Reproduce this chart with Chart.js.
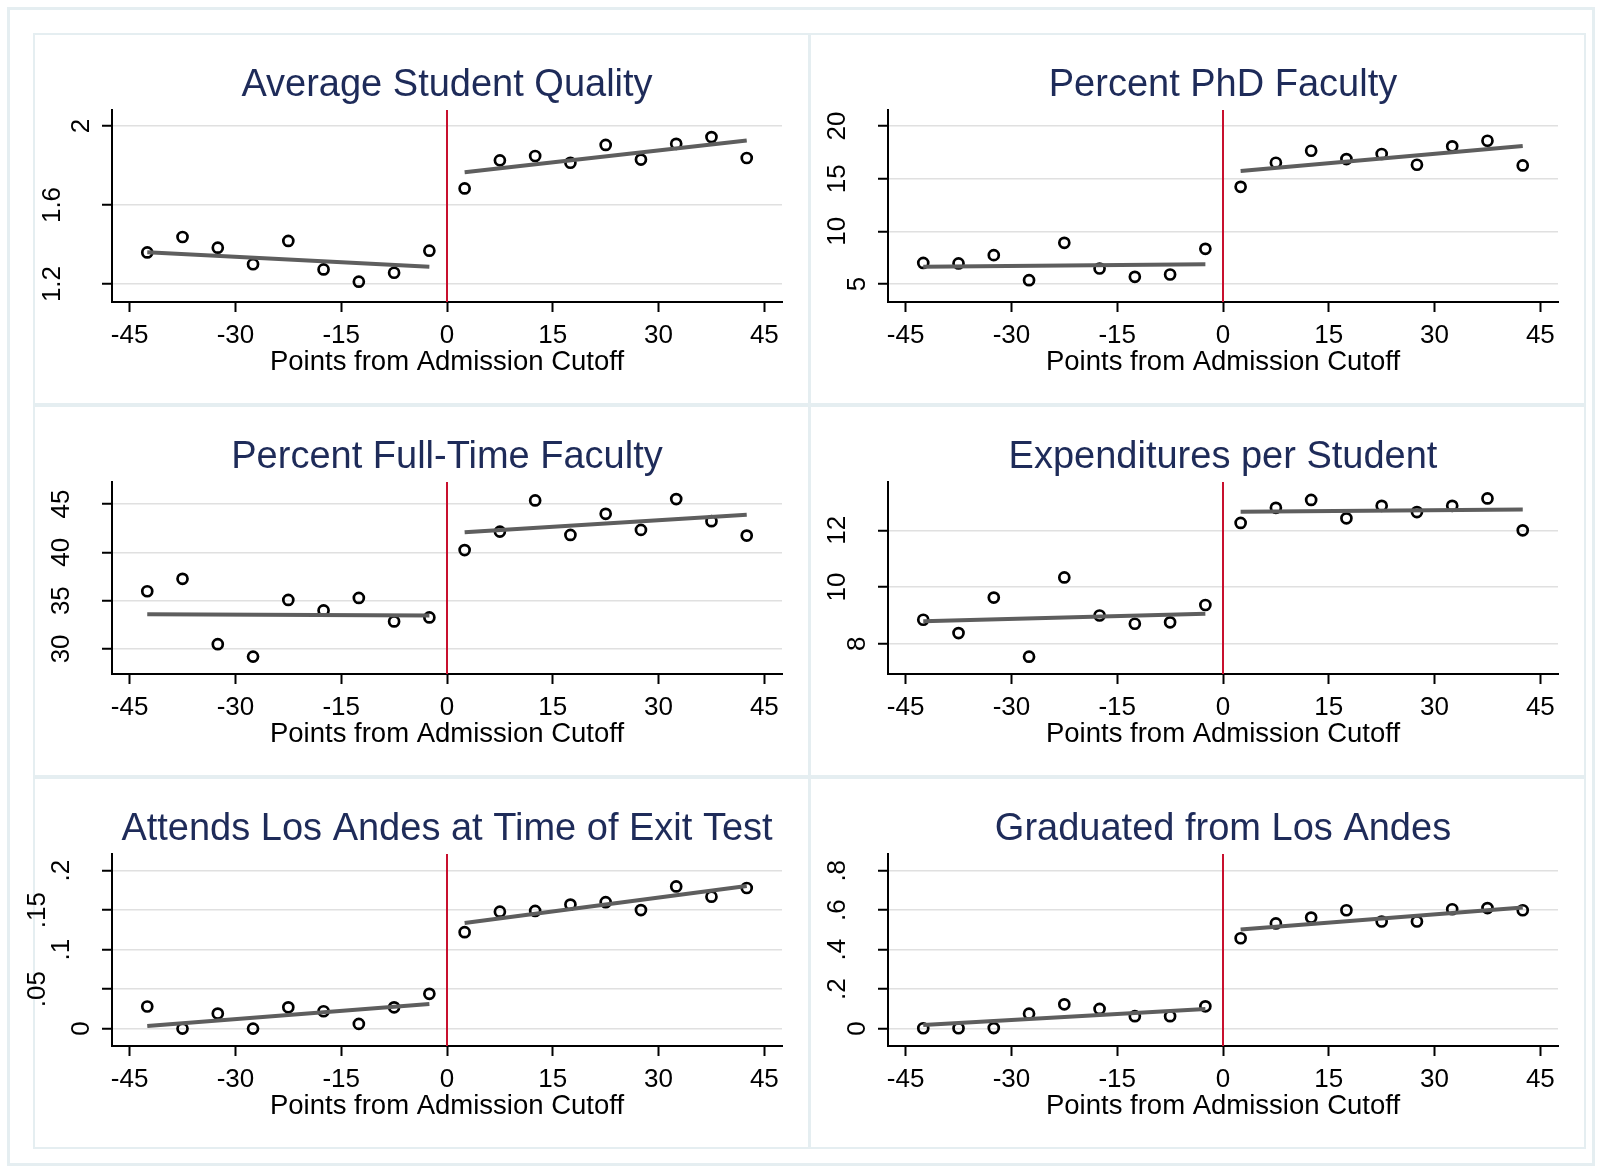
<!DOCTYPE html>
<html>
<head>
<meta charset="utf-8">
<script src="https://cdn.jsdelivr.net/npm/chart.js@4.4.1/dist/chart.umd.min.js"></script>
<style>
  html, body { margin: 0; padding: 0; background: #fff; }
  #figure { position: relative; width: 1601px; height: 1169px; }
  .frame { position: absolute; box-sizing: border-box; border: 2px solid #e5eef1; }
  canvas { position: absolute; }
</style>
</head>
<body>
<div id="figure"></div>
<script>
const bins = [-42.5, -37.5, -32.5, -27.5, -22.5, -17.5, -12.5, -7.5, -2.5, 2.5, 7.5, 12.5, 17.5, 22.5, 27.5, 32.5, 37.5, 42.5];
const fitX = [-42.5, -2.5, 2.5, 42.5];
const cutoff = 0;
const xRange = [-47.5, 47.5];
const xTicks = [-45, -30, -15, 0, 15, 30, 45];
const xTitle = 'Points from Admission Cutoff';

// Average Student Quality
const qualityValues = [1.360, 1.438, 1.384, 1.300, 1.418, 1.274, 1.212, 1.257, 1.369, 1.684, 1.826, 1.848, 1.814, 1.904, 1.830, 1.910, 1.944, 1.838];
const qualityFit = [1.361, 1.288, 1.766, 1.927];
const qualityTicks = [1.2, 1.6, 2];
const qualityLabels = ['1.2', '1.6', '2'];
const qualityRange = [1.109, 2.081];

// Percent PhD Faculty
const phdValues = [7.00, 6.95, 7.74, 5.36, 8.91, 6.47, 5.68, 5.90, 8.34, 14.23, 16.51, 17.65, 16.86, 17.34, 16.32, 18.07, 18.60, 16.26];
const phdFit = [6.63, 6.88, 15.72, 18.10];
const phdTicks = [5, 10, 15, 20];
const phdLabels = ['5', '10', '15', '20'];
const phdRange = [3.29, 21.52];

// Percent Full-Time Faculty
const fullTimeValues = [35.97, 37.26, 30.49, 29.20, 35.07, 33.99, 35.28, 32.85, 33.26, 40.24, 42.15, 45.38, 41.81, 43.99, 42.33, 45.52, 43.23, 41.74];
const fullTimeFit = [33.58, 33.47, 42.08, 43.89];
const fullTimeTicks = [30, 35, 40, 45];
const fullTimeLabels = ['30', '35', '40', '45'];
const fullTimeRange = [27.40, 47.29];

// Expenditures per Student
const spendValues = [8.85, 8.38, 9.63, 7.55, 10.34, 9.00, 8.71, 8.76, 9.37, 12.26, 12.79, 13.07, 12.42, 12.86, 12.64, 12.86, 13.12, 12.00];
const spendFit = [8.80, 9.06, 12.65, 12.73];
const spendTicks = [8, 10, 12];
const spendLabels = ['8', '10', '12'];
const spendRange = [6.94, 13.70];

// Attends Los Andes at Time of Exit Test
const attendValues = [0.028, 0.000, 0.019, 0.000, 0.027, 0.022, 0.006, 0.027, 0.044, 0.122, 0.148, 0.149, 0.157, 0.160, 0.150, 0.180, 0.167, 0.178];
const attendFit = [0.0034, 0.0313, 0.1336, 0.1805];
const attendTicks = [0, 0.05, 0.1, 0.15, 0.2];
const attendLabels = ['0', '.05', '.1', '.15', '.2'];
const attendRange = [-0.022, 0.221];

// Graduated from Los Andes
const gradValues = [0.002, 0.002, 0.003, 0.076, 0.123, 0.100, 0.063, 0.063, 0.113, 0.458, 0.533, 0.563, 0.600, 0.543, 0.543, 0.605, 0.611, 0.600];
const gradFit = [0.019, 0.100, 0.502, 0.614];
const gradTicks = [0, 0.2, 0.4, 0.6, 0.8];
const gradLabels = ['0', '.2', '.4', '.6', '.8'];
const gradRange = [-0.088, 0.885];

const panels = [
  { title: 'Average Student Quality', values: qualityValues, fit: qualityFit, ticks: qualityTicks, labels: qualityLabels, range: qualityRange, col: 0, row: 0 },
  { title: 'Percent PhD Faculty', values: phdValues, fit: phdFit, ticks: phdTicks, labels: phdLabels, range: phdRange, col: 1, row: 0 },
  { title: 'Percent Full-Time Faculty', values: fullTimeValues, fit: fullTimeFit, ticks: fullTimeTicks, labels: fullTimeLabels, range: fullTimeRange, col: 0, row: 1 },
  { title: 'Expenditures per Student', values: spendValues, fit: spendFit, ticks: spendTicks, labels: spendLabels, range: spendRange, col: 1, row: 1 },
  { title: 'Attends Los Andes at Time of Exit Test', values: attendValues, fit: attendFit, ticks: attendTicks, labels: attendLabels, range: attendRange, col: 0, row: 2 },
  { title: 'Graduated from Los Andes', values: gradValues, fit: gradFit, ticks: gradTicks, labels: gradLabels, range: gradRange, col: 1, row: 2 }
];

const colLeft = [33, 809];
const rowTop = [33, 405, 777];
const W = 777, H = 372;
const BLEED = 16;         // canvas reaches a little left of the panel frame, like Stata's labels
const AXIS_LEFT = 79;     // y axis distance from the panel frame
const FONT = "'Liberation Sans', Arial, sans-serif";
const Y_TICK_SIZE = 26;
const TICK_LEN = 10;
const BASE_OFFSET = 50;   // distance from y axis to the centre of the rotated labels

Chart.defaults.font.family = FONT;
Chart.defaults.color = '#000';

const fig = document.getElementById('figure');
const measureCtx = document.createElement('canvas').getContext('2d');
measureCtx.font = Y_TICK_SIZE + 'px ' + FONT;

// Stata puts short rotated labels closer to the axis than long ones
function labelOffset(label) {
  if (label.length === 1) return 30;
  if (label.length === 2) return 50;
  return label[0] === '.' ? 74 : 59;
}

function addFrame(left, top, width, height, border) {
  const d = document.createElement('div');
  d.className = 'frame';
  d.style.left = left + 'px';
  d.style.top = top + 'px';
  d.style.width = width + 'px';
  d.style.height = height + 'px';
  d.style.borderWidth = border + 'px';
  fig.appendChild(d);
}

addFrame(7, 7, 1588, 1159, 3);
panels.forEach(p => addFrame(colLeft[p.col], rowTop[p.row], W, H, 2));

function makeChart(p) {
  const canvas = document.createElement('canvas');
  canvas.width = W + BLEED;
  canvas.height = H;
  canvas.style.left = (colLeft[p.col] - BLEED) + 'px';
  canvas.style.top = rowTop[p.row] + 'px';
  fig.appendChild(canvas);

  const points = bins.map((x, i) => ({ x: x, y: p.values[i] }));
  const fitStyle = { showLine: true, borderColor: '#5e5e5e', borderWidth: 4, pointRadius: 0 };

  // rotated labels are centred BASE_OFFSET px left of the axis, then nudged with an empty
  // second line whose line height sets the shift
  const widest = Math.max(...p.labels.map(l => measureCtx.measureText(l).width));
  const labelPad = BASE_OFFSET - TICK_LEN - widest / 2;
  const shifts = p.labels.map(l => BASE_OFFSET - labelOffset(l));

  new Chart(canvas, {
    type: 'scatter',
    data: {
      datasets: [
        { ...fitStyle, data: [{ x: fitX[0], y: p.fit[0] }, { x: fitX[1], y: p.fit[1] }] },
        { ...fitStyle, data: [{ x: fitX[2], y: p.fit[2] }, { x: fitX[3], y: p.fit[3] }] },
        { data: points, pointRadius: 5, pointBorderWidth: 2.7, pointBorderColor: '#000', pointBackgroundColor: 'rgba(0,0,0,0)' },
        { data: [{ x: cutoff, y: p.range[0] }, { x: cutoff, y: p.range[1] }], showLine: true, borderColor: '#c8102e', borderWidth: 2, pointRadius: 0 }
      ]
    },
    options: {
      responsive: false,
      animation: false,
      events: [],
      layout: { padding: { left: 0, right: 28, top: 0, bottom: 26 } },
      plugins: {
        legend: { display: false },
        tooltip: { enabled: false },
        title: {
          display: true,
          text: p.title,
          fullSize: false,
          color: '#1e2b59',
          font: { size: 38, weight: 'normal', lineHeight: 1 },
          padding: { top: 34, bottom: 5 }
        }
      },
      scales: {
        x: {
          type: 'linear',
          min: xRange[0],
          max: xRange[1],
          afterBuildTicks: s => { s.ticks = xTicks.map(v => ({ value: v })); },
          afterFit: s => { s.height = 77; },
          grid: { drawOnChartArea: false, drawTicks: true, tickLength: TICK_LEN, tickColor: '#000', tickWidth: 2 },
          border: { display: true, color: '#000', width: 2 },
          ticks: { color: '#000', font: { size: 26 }, padding: 8, maxRotation: 0, autoSkip: false, callback: v => String(v) },
          title: { display: true, text: xTitle, color: '#000', font: { size: 27.5 }, padding: 0 }
        },
        y: {
          type: 'linear',
          min: p.range[0],
          max: p.range[1],
          afterBuildTicks: s => { s.ticks = p.ticks.map(v => ({ value: v })); },
          afterFit: s => { s.width = AXIS_LEFT + BLEED; },
          grid: { color: '#e0e0e0', lineWidth: 1.5, drawTicks: true, tickLength: TICK_LEN, tickColor: '#000', tickWidth: 2 },
          border: { display: true, color: '#000', width: 2 },
          ticks: {
            color: '#000',
            font: ctx => ({ size: Y_TICK_SIZE, lineHeight: Math.max(2 * Math.abs(shifts[ctx.index] || 0), 1) + 'px' }),
            minRotation: 90,
            maxRotation: 90,
            crossAlign: 'center',
            padding: labelPad,
            autoSkip: false,
            callback: (v, i) => {
              const l = p.labels[i];
              if (shifts[i] > 0) return ['', l];
              if (shifts[i] < 0) return [l, ''];
              return l;
            }
          }
        }
      }
    }
  });
}

panels.forEach(makeChart);
</script>
</body>
</html>
